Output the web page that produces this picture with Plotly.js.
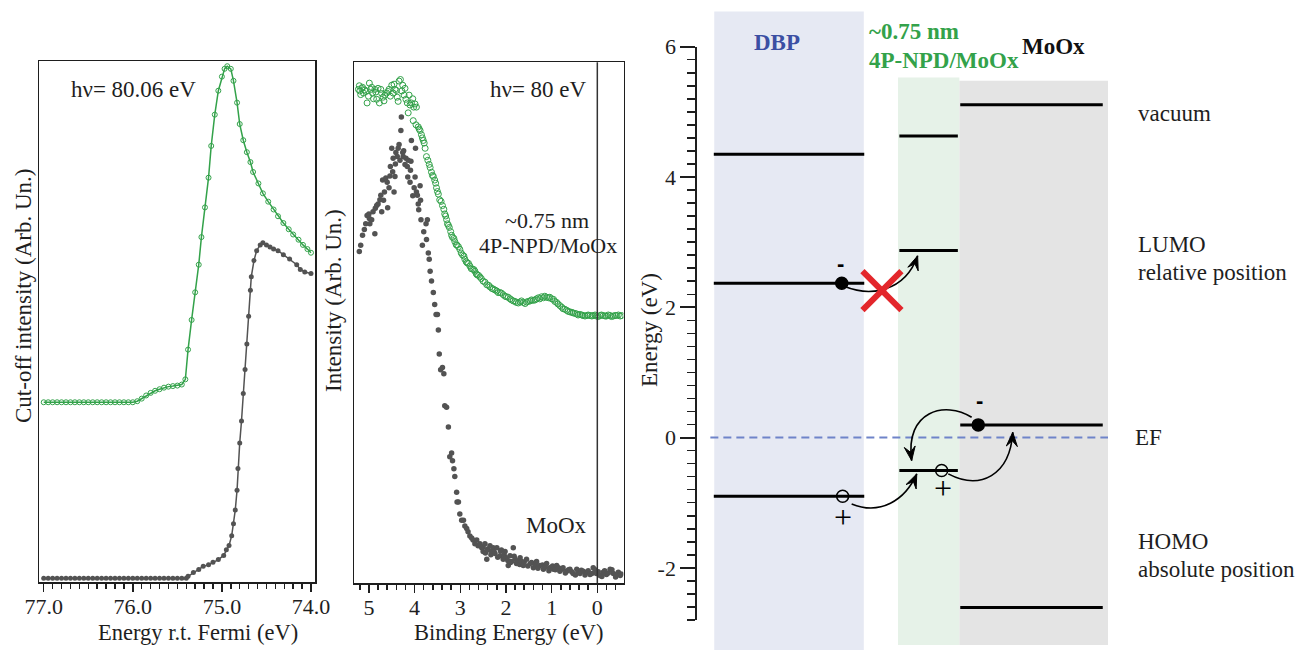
<!DOCTYPE html>
<html><head><meta charset="utf-8">
<script src="https://cdn.plot.ly/plotly-3.0.1.min.js"></script>
<style>html,body{margin:0;padding:0;background:#fff}#chart{width:1298px;height:650px}</style>
</head><body><div id="chart"></div>
<script>
// ---------- Panel (a): secondary-electron cut-off ----------
const cutE_np = [77.00,76.95,76.90,76.85,76.80,76.75,76.70,76.65,76.60,76.55,76.50,76.45,76.40,76.35,76.30,76.25,76.20,76.15,76.10,76.05,76.00,
  75.95,75.90,75.85,75.80,75.75,75.70,75.65,75.60,75.55,75.50,75.45,
  75.41,75.38,75.34,75.30,75.26,75.23,75.19,75.15,75.12,75.08,75.04,75.00,74.97,74.94,74.90,74.87,74.83,74.80,74.76,74.72,74.68,74.65,74.59,74.54,74.48,74.42,74.37,74.31,74.25,74.20,74.14,74.09,74.04,74.00];
const cutI_np = [0.345,0.345,0.345,0.345,0.345,0.345,0.345,0.345,0.345,0.345,0.345,0.345,0.345,0.345,0.345,0.345,0.345,0.345,0.345,0.345,0.345,
  0.347,0.352,0.358,0.363,0.367,0.370,0.373,0.375,0.376,0.377,0.379,
  0.389,0.446,0.503,0.556,0.609,0.662,0.719,0.776,0.837,0.897,0.943,0.970,0.985,0.990,0.985,0.962,0.920,0.879,0.848,0.825,0.806,0.787,0.765,0.746,0.730,0.715,0.702,0.689,0.677,0.667,0.657,0.647,0.639,0.632];
const cutE_mo = [77.00,76.95,76.90,76.85,76.80,76.75,76.70,76.65,76.60,76.55,76.50,76.45,76.40,76.35,76.30,76.25,76.20,76.15,76.10,76.05,76.00,
  75.95,75.90,75.85,75.80,75.75,75.70,75.65,75.60,75.55,75.50,75.45,75.40,
  75.38,75.32,75.26,75.21,75.15,75.10,75.04,74.98,74.95,74.92,74.89,74.87,74.85,74.83,74.82,74.80,74.78,74.76,74.74,74.72,74.70,74.68,74.67,74.64,74.61,74.57,74.54,74.50,74.46,74.42,74.37,74.31,74.24,74.16,74.12,74.07,74.00];
const cutI_mo = [0.007,0.007,0.007,0.007,0.007,0.007,0.007,0.007,0.007,0.007,0.007,0.007,0.007,0.007,0.007,0.007,0.007,0.007,0.007,0.007,0.007,
  0.007,0.007,0.007,0.007,0.007,0.007,0.007,0.007,0.007,0.007,0.007,0.007,
  0.011,0.018,0.024,0.030,0.033,0.038,0.043,0.051,0.062,0.070,0.089,0.112,0.138,0.176,0.218,0.267,0.309,0.362,0.408,0.457,0.510,0.560,0.586,0.617,0.636,0.647,0.651,0.647,0.643,0.639,0.636,0.628,0.620,0.609,0.600,0.595,0.592];

// ---------- Panel (b): valence band ----------
const vbBE_np = [5.23,5.21,5.20,5.18,5.16,5.14,5.12,5.09,5.06,5.04,5.01,4.99,4.96,4.94,4.92,4.90,4.87,4.85,4.83,4.80,4.77,4.74,4.72,4.69,4.67,4.65,4.61,4.58,4.56,4.53,4.50,4.47,4.45,4.43,4.40,4.38,4.36,4.34,4.31,4.28,4.26,4.23,4.21,4.19,4.16,4.14,4.12,4.10,4.07,4.04,4.03,4.02,3.99,3.97,3.96,
  3.92,3.90,3.88,3.85,3.83,3.81,3.79,3.77,3.74,3.71,3.68,3.66,3.63,3.61,3.59,3.56,3.54,3.52,3.50,3.48,3.45,3.42,3.39,3.36,3.34,3.32,3.30,3.28,3.26,3.24,3.21,3.19,3.17,3.14,3.12,3.09,3.07,3.04,3.01,2.98,2.95,2.92,2.90,2.87,2.85,2.82,2.79,2.76,2.73,2.70,2.68,2.65,2.63,2.60,2.57,2.54,2.50,2.46,2.42,2.38,2.35,2.31,2.28,2.24,2.20,2.17,2.13,2.10,2.06,2.02,1.99,1.95,1.91,1.88,1.84,1.80,1.77,1.73,1.69,1.66,1.62,1.58,1.55,1.51,1.47,1.44,1.40,1.36,1.33,1.29,1.26,1.22,1.18,1.15,1.11,1.07,1.04,1.00,0.96,0.93,0.89,0.86,0.82,0.78,0.75,0.71,0.67,0.64,0.60,0.56,0.53,0.49,0.45,0.42,0.38,0.34,0.31,0.27,0.23,0.20,0.16,0.12,0.09,0.05,0.02,-0.02,-0.06,-0.09,-0.13,-0.17,-0.20,-0.24,-0.28,-0.31,-0.35,-0.39,-0.42,-0.46,-0.50,-0.53];
const vbI_np = [0.948,0.955,0.945,0.938,0.950,0.952,0.941,0.947,0.944,0.922,0.935,0.960,0.948,0.952,0.941,0.930,0.948,0.943,0.929,0.950,0.922,0.948,0.940,0.933,0.926,0.937,0.941,0.944,0.948,0.935,0.956,0.941,0.958,0.948,0.946,0.933,0.925,0.964,0.967,0.945,0.956,0.937,0.950,0.929,0.922,0.903,0.937,0.918,0.922,0.930,0.888,0.914,0.920,0.880,0.914,
  0.876,0.872,0.869,0.861,0.855,0.850,0.845,0.835,0.819,0.812,0.804,0.798,0.789,0.783,0.781,0.774,0.768,0.759,0.752,0.747,0.736,0.733,0.725,0.718,0.709,0.705,0.698,0.690,0.687,0.683,0.675,0.668,0.664,0.662,0.656,0.650,0.649,0.646,0.641,0.634,0.630,0.628,0.622,0.617,0.615,0.614,0.609,0.604,0.603,0.602,0.599,0.594,0.592,0.591,0.588,0.585,0.580,0.578,0.573,0.572,0.569,0.566,0.565,0.563,0.561,0.558,0.558,0.557,0.554,0.551,0.550,0.549,0.546,0.544,0.542,0.541,0.539,0.538,0.540,0.542,0.539,0.537,0.540,0.541,0.542,0.544,0.543,0.544,0.546,0.548,0.546,0.550,0.548,0.551,0.549,0.548,0.549,0.546,0.545,0.541,0.539,0.536,0.533,0.530,0.527,0.526,0.524,0.522,0.521,0.520,0.519,0.518,0.517,0.515,0.516,0.515,0.514,0.513,0.514,0.515,0.514,0.513,0.514,0.515,0.513,0.512,0.514,0.515,0.514,0.513,0.513,0.515,0.514,0.512,0.513,0.514,0.514,0.515,0.513,0.514];
const vbBE_mo = [5.21,5.18,5.14,5.10,5.07,5.04,5.00,4.99,4.98,4.94,4.91,4.87,4.86,4.83,4.80,4.76,4.74,4.72,4.70,4.68,4.66,4.63,4.60,4.59,4.56,4.54,4.53,4.50,4.48,4.47,4.45,4.43,4.42,4.41,4.38,4.36,4.34,4.32,4.30,4.29,4.26,4.25,4.24,4.21,4.19,4.16,4.15,4.14,4.10,4.09,4.08,4.07,4.04,4.01,3.99,3.98,3.96,3.94,3.92,3.91,3.88,3.87,3.86,
  3.83,3.80,3.75,3.74,3.72,3.70,3.68,3.66,3.63,3.59,3.56,3.53,3.50,3.48,3.46,3.43,3.39,3.36,3.34,3.30,3.26,3.23,3.19,3.17,3.14,3.12,3.08,3.07,3.04,3.01,2.97,2.93,2.90,2.86,2.83,2.79,2.75,2.72,2.68,2.64,2.61,2.57,2.53,2.50,2.50,2.46,2.45,2.42,2.40,2.39,2.35,2.33,2.31,2.28,2.26,2.24,2.20,2.18,2.13,2.12,2.10,2.06,2.04,2.02,1.99,1.96,1.95,1.91,1.90,1.88,1.84,1.82,1.80,1.77,1.75,1.70,1.69,1.66,1.62,1.60,1.55,1.52,1.47,1.44,1.40,1.36,1.33,1.30,1.26,1.20,1.18,1.14,1.11,1.06,1.04,0.98,0.96,0.92,0.89,0.85,0.82,0.78,0.75,0.70,0.67,0.63,0.60,0.56,0.53,0.48,0.45,0.42,0.38,0.35,0.31,0.27,0.23,0.20,0.16,0.12,0.09,0.05,0.02,-0.02,-0.06,-0.10,-0.13,-0.16,-0.20,-0.24,-0.28,-0.32,-0.35,-0.40,-0.42,-0.46,-0.50,-0.52];
const vbI_mo = [0.637,0.649,0.668,0.679,0.690,0.706,0.709,0.700,0.690,0.698,0.713,0.671,0.720,0.725,0.728,0.736,0.745,0.713,0.774,0.735,0.751,0.778,0.770,0.721,0.759,0.782,0.800,0.835,0.790,0.816,0.751,0.781,0.805,0.827,0.819,0.835,0.842,0.812,0.869,0.895,0.827,0.819,0.830,0.804,0.816,0.800,0.780,0.812,0.770,0.793,0.810,0.850,0.744,0.759,0.780,0.835,0.751,0.745,0.728,0.717,0.763,0.735,0.698,
  0.649,0.675,0.690,0.660,0.698,0.634,0.622,0.599,0.580,0.558,0.535,0.516,0.516,0.486,0.440,0.410,0.414,0.402,0.341,0.338,0.300,0.243,0.250,0.235,0.220,0.205,0.175,0.156,0.156,0.133,0.121,0.121,0.110,0.105,0.099,0.091,0.087,0.083,0.076,0.083,0.072,0.076,0.068,0.061,0.070,0.076,0.058,0.046,0.066,0.064,0.072,0.055,0.061,0.068,0.060,0.057,0.068,0.050,0.053,0.062,0.064,0.046,0.055,0.061,0.049,0.044,0.034,0.053,0.040,0.042,0.068,0.052,0.046,0.038,0.043,0.036,0.049,0.042,0.034,0.041,0.046,0.033,0.038,0.040,0.030,0.036,0.042,0.029,0.034,0.035,0.027,0.031,0.038,0.024,0.030,0.033,0.027,0.026,0.034,0.030,0.023,0.027,0.030,0.020,0.023,0.026,0.027,0.022,0.019,0.016,0.027,0.023,0.019,0.025,0.023,0.016,0.021,0.024,0.017,0.019,0.030,0.026,0.019,0.022,0.015,0.013,0.021,0.024,0.017,0.020,0.027,0.026,0.019,0.012,0.017,0.021,0.015,0.018];

// ---------- Panel (c): energy levels (eV, relative to EF) ----------
const materials   = ['DBP', '~0.75 nm 4P-NPD/MoOx', 'MoOx'];
const vacuumLevel = [4.35, 4.63, 5.11];
const lumoLevel   = [2.37, 2.87, 0.195];
const homoLevel   = [-0.90, -0.505, -2.61];
const fermiLevel  = 0;
const ticksA = [77, 76, 75, 74];
const ticksB = [5, 4, 3, 2, 1, 0];
const ticksC = [-2, 0, 2, 4, 6];
const ticksCtext = ['-2', '0', '2', '4', '6'];

// ---------- layout helpers ----------
const W = 1298, H = 650;
const fx = p => p / W, fy = p => 1 - p / H;
const SERIF = '"Liberation Serif", "Times New Roman", serif';
const INK = '#1e1e1e';
const GREEN = '#33a24a', GRAY = '#535353';
const colRect = [[0.113, 1.110], [1.338, 1.747], [1.747, 2.738]];
const colLine = [[0.110, 1.113], [1.347, 1.737], [1.753, 2.703]];
const colFill = ['#e6e9f3', '#e6f2e8', '#e4e4e4'];
const colTop  = [11.4, 77.4, 80.7];
const colBot  = [650, 645, 645];
const PXU = 150, PXE = (620 - 46.7) / 8.8;

function arrowHead(c2, tip, L, Wd) {
  const dx = (tip[0] - c2[0]) * PXU, dy = (tip[1] - c2[1]) * PXE;
  const len = Math.hypot(dx, dy), ux = dx / len, uy = dy / len, nx = -uy, ny = ux;
  const pt = (a, b) => [tip[0] + a / PXU, tip[1] + b / PXE];
  const bl = pt(-L * ux + Wd * nx, -L * uy + Wd * ny);
  const br = pt(-L * ux - Wd * nx, -L * uy - Wd * ny);
  const nt = pt(-0.6 * L * ux, -0.6 * L * uy);
  return `M${tip[0]},${tip[1]} L${bl[0]},${bl[1]} L${nt[0]},${nt[1]} L${br[0]},${br[1]} Z`;
}

const traces = [
  {x: cutE_np, y: cutI_np, xaxis: 'x', yaxis: 'y', mode: 'lines+markers', hoverinfo: 'skip',
   line: {color: GREEN, width: 1.5}, marker: {symbol: 'circle-open', size: 5, color: GREEN, line: {width: 1, color: GREEN}}},
  {x: cutE_mo, y: cutI_mo, xaxis: 'x', yaxis: 'y', mode: 'lines+markers', hoverinfo: 'skip',
   line: {color: GRAY, width: 1.5}, marker: {symbol: 'circle', size: 5, color: GRAY}},
  {x: vbBE_np, y: vbI_np, xaxis: 'x2', yaxis: 'y2', mode: 'markers', hoverinfo: 'skip',
   marker: {symbol: 'circle-open', size: 6, color: GREEN, line: {width: 1, color: GREEN}}},
  {x: vbBE_mo, y: vbI_mo, xaxis: 'x2', yaxis: 'y2', mode: 'markers', hoverinfo: 'skip',
   marker: {symbol: 'circle', size: 5.5, color: GRAY}},
  {x: [0.963, 1.873, 0.969, 1.629], y: [lumoLevel[0], lumoLevel[2], homoLevel[0], homoLevel[1]],
   xaxis: 'x3', yaxis: 'y3', mode: 'markers', hoverinfo: 'skip',
   marker: {symbol: 'circle', size: 12, color: ['#000', '#000', colFill[0], colFill[1]], line: {color: '#000', width: 1.5}}}
];

const shapes = [];
for (let i = 0; i < 3; i++) {
  shapes.push({type: 'rect', layer: 'below', xref: 'x3', yref: 'paper', x0: colRect[i][0], x1: colRect[i][1],
    y0: fy(colBot[i]), y1: fy(colTop[i]), fillcolor: colFill[i], line: {width: 0}});
}
[vacuumLevel, lumoLevel, homoLevel].forEach(arr => arr.forEach((e, i) => {
  shapes.push({type: 'line', xref: 'x3', yref: 'y3', x0: colLine[i][0], x1: colLine[i][1], y0: e, y1: e,
    line: {color: '#000', width: 3}});
}));
shapes.push({type: 'line', xref: 'x3', yref: 'y3', x0: 0.087, x1: 2.738, y0: fermiLevel, y1: fermiLevel,
  line: {color: '#6f84c9', width: 2, dash: '8px,5px'}});
shapes.push({type: 'line', xref: 'x2', yref: 'y2 domain', x0: 0, x1: 0, y0: 0, y1: 1, line: {color: '#333', width: 1.5}});
const arrows = [
  [[0.983, 2.318], [1.150, 2.164], [1.383, 2.226], [1.469, 2.790]],
  [[1.029, -1.018], [1.218, -1.197], [1.385, -0.967], [1.463, -0.558]],
  [[1.673, -0.557], [1.885, -0.813], [2.085, -0.583], [2.103, 0.081]],
  [[1.829, 0.312], [1.651, 0.568], [1.383, 0.414], [1.429, -0.353]]
];
arrows.forEach(a => {
  shapes.push({type: 'path', xref: 'x3', yref: 'y3', line: {color: '#000', width: 1.6}, fillcolor: 'rgba(0,0,0,0)',
    path: `M${a[0][0]},${a[0][1]} C${a[1][0]},${a[1][1]} ${a[2][0]},${a[2][1]} ${a[3][0]},${a[3][1]}`});
  shapes.push({type: 'path', xref: 'x3', yref: 'y3', line: {color: '#000', width: 1}, fillcolor: '#000',
    path: arrowHead(a[2], a[3], 14, 5.5)});
});
const xc = [1.231, 2.255], hx = 0.13, hy = 0.30;
shapes.push({type: 'line', xref: 'x3', yref: 'y3', x0: xc[0] - hx, x1: xc[0] + hx, y0: xc[1] + hy, y1: xc[1] - hy, line: {color: '#e3262b', width: 6}});
shapes.push({type: 'line', xref: 'x3', yref: 'y3', x0: xc[0] - hx, x1: xc[0] + hx, y0: xc[1] - hy, y1: xc[1] + hy, line: {color: '#e3262b', width: 6}});

const txt = (text, x, y, opt = {}) => Object.assign({
  text, xref: 'paper', yref: 'paper', x: fx(x), y: fy(y), showarrow: false,
  xanchor: 'left', yanchor: 'middle', font: {family: SERIF, size: 23, color: INK}
}, opt);
const bold = (color) => ({font: {family: SERIF, size: 23, color, weight: 'bold'}});
const signFont = {family: SERIF, size: 32, color: '#000'};
const f22 = {family: SERIF, size: 22, color: INK};

const annotations = [
  txt('hν= 80.06 eV', 69, 89),
  txt('hν= 80 eV', 589, 89, {xanchor: 'right'}),
  txt('~0.75 nm', 547, 220, {xanchor: 'center', font: f22}),
  txt('4P-NPD/MoOx', 548, 246, {xanchor: 'center', font: f22}),
  txt('MoOx', 589, 525, {xanchor: 'right'}),
  txt('Energy r.t. Fermi (eV)', 198, 632, {xanchor: 'center', font: {family: SERIF, size: 22.5, color: INK}}),
  txt('Binding Energy (eV)', 509, 632, {xanchor: 'center', font: {family: SERIF, size: 22.5, color: INK}}),
  txt('Cut-off intensity (Arb. Un.)', 23, 296, {xanchor: 'center', textangle: -90}),
  txt('Intensity (Arb. Un.)', 333, 301, {xanchor: 'center', textangle: -90}),
  txt('Energy (eV)', 649, 330, {xanchor: 'center', textangle: -90}),
  txt('DBP', 777, 42, Object.assign({xanchor: 'center'}, bold('#3b4fa3'))),
  txt('~0.75 nm', 867, 32, bold(GREEN)),
  txt('4P-NPD/MoOx', 867, 61, bold(GREEN)),
  txt('MoOx', 1020, 46, bold('#111')),
  txt('vacuum', 1136, 113),
  txt('LUMO', 1136, 244),
  txt('relative position', 1136, 272),
  txt('EF', 1133, 437),
  txt('HOMO', 1136, 541),
  txt('absolute position', 1136, 569),
  txt('-', 840, 263, {xanchor: 'center', font: {family: '"Liberation Sans", Arial, sans-serif', size: 22, color: '#000', weight: 'bold'}}),
  txt('-', 979, 400, {xanchor: 'center', font: {family: '"Liberation Sans", Arial, sans-serif', size: 22, color: '#000', weight: 'bold'}}),
  txt('+', 843, 517, {xanchor: 'center', font: signFont}),
  txt('+', 943, 488, {xanchor: 'center', font: signFont})
];

const frameAxis = {showline: true, mirror: true, linecolor: INK, linewidth: 1.5, showgrid: false, zeroline: false, fixedrange: true};
const layout = {
  width: W, height: H, margin: {l: 0, r: 0, t: 0, b: 0}, showlegend: false,
  paper_bgcolor: '#fff', plot_bgcolor: 'rgba(0,0,0,0)', font: {family: SERIF, color: INK},
  xaxis: Object.assign({}, frameAxis, {domain: [fx(39), fx(315)], range: [77.053, 73.955], anchor: 'y',
    tickmode: 'array', tickvals: ticksA, ticktext: ticksA.map(v => v.toFixed(1)), ticklabelstandoff: -4,
    ticks: 'outside', ticklen: 8, tickwidth: 1.5, tickcolor: INK, tickfont: {family: SERIF, size: 22, color: INK},
    minor: {tickmode: 'linear', tick0: 74, dtick: 0.1, ticks: 'outside', ticklen: 5, tickwidth: 1.5, tickcolor: INK}}),
  yaxis: Object.assign({}, frameAxis, {domain: [fy(582), fy(61)], range: [0, 1], anchor: 'x', ticks: '', showticklabels: false}),
  xaxis2: Object.assign({}, frameAxis, {domain: [fx(354.3), fx(623.5)], range: [5.32, -0.573], anchor: 'y2',
    tickmode: 'array', tickvals: ticksB, ticktext: ticksB.map(String), ticklabelstandoff: -4,
    ticks: 'outside', ticklen: 8, tickwidth: 1.5, tickcolor: INK, tickfont: {family: SERIF, size: 22, color: INK},
    minor: {tickmode: 'linear', tick0: 0, dtick: 0.2, ticks: 'outside', ticklen: 5, tickwidth: 1.5, tickcolor: INK}}),
  yaxis2: Object.assign({}, frameAxis, {domain: [fy(583.3), fy(62.3)], range: [0, 1], anchor: 'x2', ticks: '', showticklabels: false}),
  xaxis3: {domain: [fx(697.3), fx(1297.3)], range: [0, 4], anchor: 'y3', visible: false, fixedrange: true},
  yaxis3: {domain: [fy(620), fy(46.7)], range: [-2.8, 6], anchor: 'x3', side: 'left',
    showline: true, linecolor: INK, linewidth: 2, showgrid: false, zeroline: false, fixedrange: true,
    tickmode: 'array', tickvals: ticksC, ticktext: ticksCtext,
    ticks: 'outside', ticklen: 15, tickwidth: 2, tickcolor: INK, tickfont: {family: SERIF, size: 22, color: INK},
    minor: {tickmode: 'linear', tick0: 0, dtick: 0.2, ticks: 'outside', ticklen: 8, tickwidth: 1.5, tickcolor: INK}},
  shapes, annotations
};
Plotly.newPlot('chart', traces, layout, {displayModeBar: false, staticPlot: true});
</script></body></html>
